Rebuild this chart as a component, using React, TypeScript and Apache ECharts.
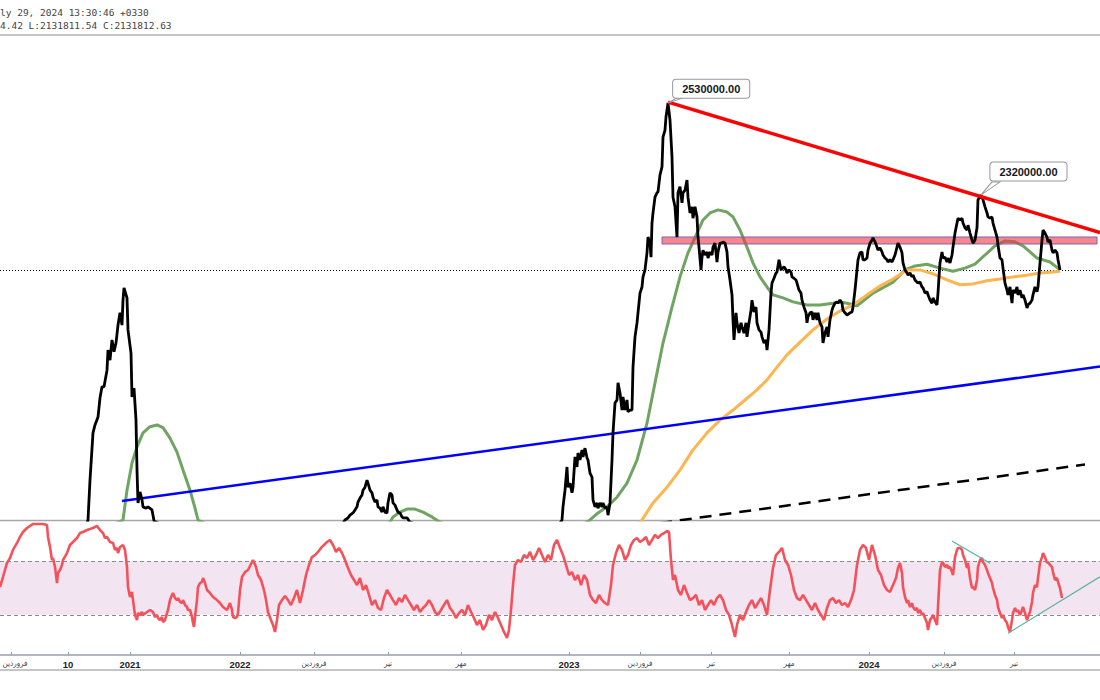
import React, { useEffect, useRef } from "react";
import * as echarts from "echarts";

// ---- header ----
const headerLines = ["ly 29, 2024 13:30:46 +0330", "4.42 L:2131811.54 C:2131812.63"];

// ---- time axis (bar index) ----
const xTicks = [11, 68, 130, 240, 314, 388, 461, 569, 640, 711, 789, 869, 944, 1014];
const xTickLabels = ["فروردین", "10", "2021", "2022", "فروردین", "تیر", "مهر", "2023", "فروردین", "تیر", "مهر", "2024", "فروردین", "تیر"];

// ---- price (thousand rials) [barIndex, close] ----
const price: [number, number][] = [
  [0, 1532], [60, 1521], [85, 1555],
  [88, 1578], [90, 1669], [93, 1777], [95, 1795], [98, 1813], [100, 1857], [102, 1882], [104, 1882], [107, 1920], [108, 1966], [110, 1943], [112, 1989], [114, 1962], [116, 1982], [118, 2023], [120, 2051], [122, 2023], [123, 2080], [124, 2108], [127, 2085], [128, 2012], [131, 1959], [132, 1859], [134, 1879], [136, 1806], [137, 1692], [138, 1617], [140, 1642], [142, 1624], [143, 1608], [146, 1605], [148, 1608], [152, 1601], [154, 1576],
  [200, 1521], [280, 1532], [340, 1560],
  [345, 1578], [348, 1583], [350, 1589], [353, 1594], [355, 1601], [357, 1608], [358, 1619], [360, 1628], [362, 1635], [363, 1646], [365, 1653], [367, 1669], [368, 1662], [370, 1646], [372, 1640], [373, 1630], [375, 1619], [377, 1624], [378, 1608], [380, 1605], [382, 1596], [383, 1608], [385, 1596], [387, 1594], [388, 1617], [390, 1640], [392, 1635], [393, 1617], [395, 1612], [397, 1601], [398, 1596], [400, 1594], [402, 1585], [403, 1583], [407, 1583], [410, 1573],
  [480, 1521], [540, 1532], [558, 1564],
  [562, 1578], [563, 1608], [565, 1646], [567, 1699], [568, 1653], [570, 1662], [572, 1640], [573, 1653], [575, 1722], [577, 1699], [578, 1731], [580, 1715], [582, 1738], [583, 1722], [585, 1742], [587, 1720], [588, 1715], [590, 1685], [592, 1676], [593, 1624], [595, 1608], [597, 1617], [598, 1605], [600, 1617], [602, 1608], [603, 1617], [605, 1605], [607, 1608], [608, 1589], [610, 1617], [612, 1715], [613, 1777], [615, 1845], [617, 1852], [618, 1891], [620, 1868], [622, 1829], [623, 1859], [625, 1829], [627, 1852], [628, 1825], [630, 1829], [632, 1829], [633, 1927], [635, 1996], [637, 2028], [638, 2051], [640, 2096], [642, 2110], [643, 2133], [645, 2149], [647, 2188], [648, 2224], [650, 2210], [651, 2178], [652, 2256], [653, 2279], [655, 2315], [657, 2325], [658, 2327], [660, 2366], [662, 2384], [663, 2452], [665, 2468], [666, 2498], [668, 2530], [670, 2491], [672, 2407], [673, 2315], [675, 2293], [677, 2224], [678, 2325], [680, 2339], [682, 2302], [683, 2325], [685, 2331], [687, 2354], [688, 2315], [690, 2279], [692, 2293], [693, 2267], [695, 2293], [697, 2270], [698, 2224], [699, 2201],
  [701, 2149], [702, 2178], [703, 2194], [705, 2183], [707, 2190], [708, 2176], [710, 2190], [712, 2183], [713, 2201], [715, 2210], [717, 2167], [718, 2190], [720, 2210], [722, 2210], [723, 2213], [725, 2210], [727, 2190], [728, 2156], [730, 2126], [732, 2092], [733, 2035], [734, 1989], [736, 2051], [737, 2028], [739, 2005], [741, 2028], [742, 2019], [744, 2005], [746, 2028], [747, 1996], [749, 2028], [751, 2057], [752, 2080], [754, 2053], [756, 2064], [757, 2028], [759, 2012], [761, 2007], [762, 1996], [764, 1982], [766, 1989], [767, 1966], [769, 2012], [771, 2096], [772, 2119], [774, 2130], [776, 2142], [777, 2144], [779, 2172], [781, 2149], [784, 2156], [786, 2149], [787, 2142], [789, 2149], [791, 2144], [792, 2133], [794, 2130], [796, 2126], [797, 2119], [799, 2103], [801, 2096], [802, 2080], [804, 2064], [806, 2051], [807, 2028], [808, 2042], [810, 2051], [812, 2053], [813, 2035], [815, 2051], [817, 2035], [818, 2051], [820, 2028], [822, 2019], [823, 1982], [825, 2005], [827, 2019], [828, 1996], [830, 2035], [832, 2057], [833, 2064], [835, 2073], [837, 2076], [838, 2073], [840, 2080], [842, 2073], [843, 2057], [845, 2051], [847, 2046], [850, 2051], [852, 2053], [853, 2064], [855, 2103], [857, 2149], [858, 2172], [860, 2188], [862, 2190], [863, 2172], [865, 2172], [867, 2176], [868, 2194], [870, 2210], [872, 2217], [873, 2222], [875, 2213], [877, 2201], [878, 2194], [880, 2199], [882, 2190], [883, 2183], [885, 2176], [887, 2172], [888, 2167], [890, 2172], [892, 2167], [893, 2172], [895, 2183], [897, 2201], [898, 2210], [900, 2201], [902, 2188], [903, 2165], [905, 2149], [907, 2142], [908, 2137], [910, 2142], [912, 2133], [913, 2137], [915, 2126], [917, 2121], [918, 2119], [920, 2121], [922, 2110], [923, 2108], [925, 2096], [927, 2099], [928, 2092], [930, 2080], [932, 2073], [933, 2085], [935, 2076], [937, 2069], [938, 2096], [939, 2133], [940, 2165], [942, 2190], [943, 2176], [945, 2178], [947, 2167], [948, 2176], [950, 2165], [952, 2183], [953, 2201], [955, 2233], [957, 2256], [958, 2267], [960, 2263], [962, 2267], [963, 2256], [965, 2245], [967, 2240], [968, 2251], [970, 2233], [972, 2217], [973, 2210], [975, 2217], [977, 2245], [978, 2309], [981, 2320], [983, 2309], [985, 2293], [987, 2279], [988, 2270], [990, 2267], [992, 2270], [993, 2256], [995, 2240], [997, 2224], [998, 2206], [1000, 2176], [1002, 2172], [1003, 2153], [1005, 2119], [1007, 2103], [1008, 2092], [1010, 2110], [1012, 2073], [1013, 2103], [1015, 2096], [1017, 2110], [1018, 2092], [1020, 2103], [1022, 2085], [1023, 2092], [1025, 2080], [1027, 2062], [1028, 2069], [1030, 2073], [1032, 2080], [1033, 2092], [1035, 2110], [1037, 2099], [1038, 2110], [1040, 2165], [1042, 2217], [1043, 2240], [1045, 2233], [1047, 2224], [1048, 2213], [1050, 2217], [1052, 2194], [1053, 2188], [1055, 2194], [1057, 2188], [1058, 2172], [1060, 2148.7],
];

// ---- moving averages ----
const maFast: [number, number][] = [
  [60, 1510], [123, 1578], [127, 1646], [132, 1708], [137, 1745], [143, 1777], [150, 1791], [157, 1795], [163, 1789], [170, 1765], [177, 1733], [183, 1692], [190, 1646], [195, 1605], [198, 1578],
  [250, 1521], [330, 1532], [380, 1560], [390, 1573], [393, 1585], [400, 1596], [407, 1603], [415, 1603], [423, 1596], [432, 1585], [440, 1573],
  [500, 1521], [560, 1532], [590, 1578], [598, 1594], [607, 1608], [617, 1630], [627, 1662], [637, 1715], [647, 1799], [655, 1891], [663, 1982], [672, 2064], [680, 2133], [688, 2188], [697, 2233], [703, 2263], [710, 2279], [718, 2286], [727, 2281], [733, 2270], [740, 2240], [747, 2201], [753, 2165], [760, 2133], [767, 2110], [773, 2092], [783, 2085], [793, 2076], [807, 2069], [820, 2069], [833, 2073], [840, 2076], [847, 2073], [857, 2067], [873, 2096], [893, 2121], [905, 2149], [915, 2158], [927, 2162], [940, 2153], [953, 2146], [965, 2153], [975, 2162], [985, 2183], [995, 2204], [1005, 2215], [1015, 2213], [1023, 2204], [1030, 2190], [1037, 2176], [1043, 2172], [1050, 2167], [1055, 2158], [1060, 2149],
];
const maSlow: [number, number][] = [
  [620, 1521], [642, 1578], [653, 1617], [667, 1653], [680, 1692], [693, 1738], [707, 1777], [720, 1806], [733, 1829], [745, 1852], [757, 1875], [767, 1898], [777, 1927], [787, 1955], [800, 1984], [813, 2012], [827, 2037], [840, 2055], [853, 2069], [867, 2092], [880, 2112], [893, 2128], [907, 2149], [920, 2149], [933, 2140], [947, 2126], [960, 2115], [973, 2117], [987, 2124], [1000, 2128], [1013, 2133], [1027, 2137], [1040, 2142], [1053, 2144], [1060, 2146],
];

// ---- drawings ----
const redTrend: [number, number][] = [[668, 2532], [1100, 2234]];
const blueTrend: [number, number][] = [[122, 1621.4], [1100, 1928.2]];
const dashedTrend: [number, number][] = [[660, 1571.1], [1085, 1704.7]];
const zoneX = [662, 1097];
const zoneV = [2224.1, 2208.1];
const calloutX = [668, 981];
const calloutV = [2530, 2320];
const calloutText = ["2530000.00", "2320000.00"];

// ---- RSI [barIndex, rsi] ----
const rsi: [number, number][] = [
  [0, 50.7], [3, 58.2], [7, 68.7], [10, 72.4], [13, 78.4], [17, 83.6], [20, 88.1], [23, 91.8], [27, 94.8], [30, 96.3], [33, 97.8], [38, 97.8], [43, 97.8], [47, 97.0], [48, 88.1], [50, 80.6], [52, 70.9], [53, 72.4], [55, 65.7], [57, 53.7], [58, 61.2], [60, 63.4], [62, 67.2], [63, 70.9], [67, 76.1], [70, 82.1], [73, 84.3], [77, 87.3], [80, 91.0], [83, 91.8], [87, 93.3], [90, 94.0], [93, 94.8], [97, 96.3], [100, 93.3], [103, 91.0], [105, 87.3], [107, 88.1], [110, 84.3], [113, 83.6], [115, 78.4], [117, 79.9], [118, 76.1], [120, 80.6], [123, 82.1], [125, 78.4], [127, 65.7], [128, 50.7], [130, 43.3], [132, 47.0], [133, 41.0], [135, 29.9], [137, 26.1], [138, 31.3], [140, 29.9], [142, 32.1], [143, 29.9], [147, 32.1], [150, 33.6], [153, 32.1], [155, 28.4], [157, 29.9], [158, 27.6], [160, 26.1], [162, 28.4], [163, 24.6], [165, 26.1], [167, 31.3], [168, 33.6], [170, 41.0], [172, 44.8], [173, 46.3], [175, 42.5], [177, 41.0], [178, 42.5], [180, 39.6], [182, 38.8], [183, 41.0], [185, 37.3], [187, 35.8], [188, 33.6], [190, 33.6], [192, 28.4], [193, 23.9], [194, 20.9], [195, 28.4], [197, 41.0], [198, 50.7], [200, 53.7], [202, 54.5], [203, 57.5], [205, 53.7], [207, 48.5], [210, 46.3], [213, 43.3], [217, 41.0], [220, 38.8], [223, 35.8], [227, 33.6], [230, 38.8], [232, 33.6], [233, 28.4], [235, 27.6], [237, 28.4], [238, 31.3], [240, 48.5], [242, 58.2], [245, 61.9], [248, 63.4],
  [250, 66.4], [253, 70.9], [256, 65.7], [258, 59.7], [261, 56.0], [264, 48.5], [266, 41.0], [268, 32.1], [271, 26.1], [273, 22.4], [275, 17.2], [277, 26.1], [279, 37.3], [282, 41.0], [285, 44.0], [288, 41.0], [291, 37.3], [294, 42.5], [297, 48.5], [300, 38.8], [303, 48.5], [306, 59.7], [309, 67.2], [312, 73.1], [315, 74.6], [318, 76.9], [321, 79.9], [324, 82.1], [327, 84.3], [330, 85.8], [333, 82.1], [336, 76.9], [339, 79.9], [342, 76.1], [345, 70.9], [348, 64.9], [351, 59.7], [354, 56.0], [357, 52.2], [360, 57.5], [363, 48.5], [366, 52.2], [369, 44.8], [372, 37.3], [375, 41.0], [378, 35.1], [381, 33.6], [384, 42.5], [387, 48.5], [390, 44.8], [393, 41.0], [396, 37.3], [399, 42.5], [402, 39.6], [405, 44.8], [408, 41.0], [411, 37.3], [414, 33.6], [417, 37.3], [420, 32.1], [423, 35.1], [426, 37.3], [429, 41.0], [432, 37.3], [435, 32.1], [438, 29.9], [441, 33.6], [444, 37.3], [447, 41.0], [450, 35.1], [453, 32.1], [456, 27.6], [459, 31.3], [462, 33.6], [465, 29.9], [468, 37.3], [471, 32.1], [474, 27.6], [477, 22.4], [480, 26.1], [483, 18.7], [486, 22.4], [489, 29.9], [492, 26.1], [495, 32.1], [498, 27.6], [501, 22.4], [504, 17.2], [507, 12.7], [509, 18.7], [511, 33.6], [513, 52.2], [515, 67.2], [518, 70.9], [521, 69.4], [524, 74.6], [527, 72.4], [530, 76.9], [533, 70.9], [536, 74.6], [539, 79.9], [542, 74.6], [545, 69.4], [548, 74.6], [551, 70.9], [554, 82.1], [557, 85.8], [560, 79.9], [563, 74.6], [566, 67.2], [569, 59.7], [572, 61.9], [575, 56.0], [578, 59.7], [581, 52.2], [584, 59.7], [587, 56.0], [590, 44.8], [593, 41.0], [596, 38.8], [599, 44.8], [602, 41.0], [605, 38.8], [608, 37.3], [611, 52.2], [613, 67.2], [616, 76.1], [619, 82.1], [622, 78.4], [625, 70.9], [628, 74.6], [631, 82.1], [634, 85.8], [637, 87.3], [640, 84.3], [643, 85.8], [646, 88.1], [649, 82.1], [652, 85.8], [655, 89.6], [658, 87.3], [661, 89.6], [664, 91.0], [667, 92.5], [669, 91.8], [671, 70.9], [673, 56.0], [675, 59.7], [678, 48.5], [681, 44.8], [684, 52.2], [687, 46.3], [690, 41.0], [693, 42.5], [696, 44.8], [699, 37.3], [702, 41.0], [705, 33.6], [708, 37.3], [711, 41.0], [714, 37.3], [717, 42.5], [720, 44.8], [723, 41.0], [726, 33.6], [729, 29.9], [732, 22.4], [735, 13.4], [737, 22.4], [740, 29.9], [743, 26.1], [746, 32.1], [749, 37.3], [752, 41.0], [755, 35.1], [758, 38.8], [761, 42.5], [764, 37.3], [767, 29.9], [770, 48.5], [773, 64.9], [776, 74.6], [779, 76.9], [782, 79.9], [785, 70.9], [788, 67.2], [791, 59.7], [794, 48.5], [797, 42.5], [800, 41.0], [803, 44.8], [806, 41.0], [809, 37.3], [812, 33.6], [815, 38.8], [818, 33.6], [821, 29.9], [824, 26.1], [827, 35.1], [830, 41.0], [833, 42.5], [836, 38.8], [839, 41.0], [842, 37.3], [845, 38.8], [848, 35.8], [851, 41.0], [854, 48.5], [857, 67.2], [860, 78.4], [863, 82.1], [866, 79.9], [869, 70.9], [872, 82.1], [875, 74.6], [878, 63.4], [881, 59.7], [884, 52.2], [887, 48.5], [890, 47.0], [893, 52.2], [896, 57.5], [898, 64.9],
  [900, 68.7], [902, 61.2], [903, 50.7], [905, 43.3], [907, 38.8], [908, 41.0], [910, 35.8], [912, 38.8], [913, 35.8], [915, 33.6], [917, 35.1], [918, 31.3], [920, 33.6], [922, 29.9], [923, 31.3], [925, 27.6], [927, 23.9], [928, 18.7], [930, 26.1], [932, 28.4], [933, 29.9], [935, 26.1], [937, 22.4], [938, 35.8], [940, 63.4], [942, 69.4], [943, 68.7], [945, 65.7], [947, 67.2], [948, 64.9], [950, 65.7], [952, 61.9], [953, 59.7], [955, 73.1], [957, 78.4], [958, 79.9], [960, 79.9], [962, 78.4], [963, 74.6], [965, 70.9], [967, 64.9], [968, 68.7], [970, 57.5], [972, 50.0], [973, 50.7], [975, 48.5], [977, 56.0], [978, 65.7], [980, 70.9], [982, 72.4], [983, 69.4], [985, 67.2], [987, 63.4], [988, 61.2], [990, 57.5], [992, 53.7], [993, 50.0], [995, 44.8], [997, 41.0], [998, 35.8], [1000, 31.3], [1002, 27.6], [1003, 29.9], [1005, 26.1], [1007, 23.9], [1008, 20.9], [1010, 17.2], [1012, 26.1], [1013, 31.3], [1015, 35.1], [1017, 32.1], [1018, 33.6], [1020, 29.9], [1022, 33.6], [1023, 35.8], [1025, 31.3], [1027, 26.1], [1028, 28.4], [1030, 32.1], [1032, 39.6], [1033, 46.3], [1035, 52.2], [1037, 50.7], [1038, 57.5], [1040, 68.7], [1042, 73.1], [1043, 76.1], [1045, 73.1], [1047, 68.7], [1048, 69.4], [1050, 67.2], [1052, 65.7], [1053, 61.9], [1055, 56.0], [1057, 57.5], [1058, 54.5], [1060, 50.0], [1062, 42.5],
];
const rsiBand = [30, 70];
const rsiTrendA: [number, number][] = [[952, 85.1], [990, 68.4]];
const rsiTrendB: [number, number][] = [[1008, 16.2], [1100, 58.4]];

// scale bounds (thousand rials)
const priceMin = 1577.99;
const priceMax = 2685.24;

export default function App() {
  const ref = useRef<HTMLDivElement>(null);
  useEffect(() => {
    if (!ref.current) return;
    const chart = echarts.init(ref.current, undefined, { renderer: "svg" });
    const lastClose = price[price.length - 1][1];
    const isNum = (t: string) => /^\d+$/.test(t);
    const pointerSizes = [[15, 5], [19, 13]];
    const labelPos = [[6, -18], [10, -19]];

    const option: any = {
      animation: false,
      backgroundColor: "#ffffff",
      grid: [
        { left: 0, right: 0, top: 35, height: 485, containLabel: false, outerBoundsMode: "none" },
        { left: 0, right: 0, top: 521, height: 134, containLabel: false, outerBoundsMode: "none" },
      ],
      xAxis: [
        { type: "value", gridIndex: 0, min: 0, max: 1100, show: false },
        {
          type: "value",
          gridIndex: 1,
          min: 0,
          max: 1100,
          axisLine: { show: true, lineStyle: { color: "#b2b5be", width: 2 } },
          axisTick: { show: true, inside: true, length: 3, customValues: xTicks, lineStyle: { color: "#9a9a9a" } },
          splitLine: { show: false },
          axisLabel: {
            show: true,
            customValues: xTicks,
            margin: 4,
            hideOverlap: false,
            formatter: (v: number) => {
              const idx = xTicks.indexOf(v);
              const t = xTickLabels[idx] ?? "";
              if (isNum(t)) return `{y|${t}}`;
              return idx === 0 ? `{f|${t}}` : `{n|${t}}`;
            },
            rich: {
              y: { fontSize: 9.5, fontWeight: "bold", color: "#222", fontFamily: "Liberation Sans, Arial, sans-serif" },
              n: { fontSize: 8, color: "#444", fontFamily: "DejaVu Sans Condensed, DejaVu Sans, sans-serif" },
              f: { fontSize: 8, color: "#444", fontFamily: "DejaVu Sans Condensed, DejaVu Sans, sans-serif", padding: [0, 0, 0, 8] },
            },
          },
        },
      ],
      yAxis: [
        { type: "value", gridIndex: 0, min: priceMin, max: priceMax, show: false },
        { type: "value", gridIndex: 1, min: 0, max: 100, show: false },
      ],
      graphic: [
        { type: "text", x: 0, y: 12, style: { text: headerLines[0], font: '9.5px "DejaVu Sans Mono", monospace', fill: "#444", verticalAlign: "middle" } },
        { type: "text", x: 0, y: 25, style: { text: headerLines[1], font: '9.5px "DejaVu Sans Mono", monospace', fill: "#444", verticalAlign: "middle" } },
        { type: "line", shape: { x1: 0, y1: 35, x2: 1100, y2: 35 }, style: { stroke: "#b0b0b0", lineWidth: 1.5 } },
        { type: "line", shape: { x1: 0, y1: 520.5, x2: 1100, y2: 520.5 }, style: { stroke: "#a6a6a6", lineWidth: 1.5 } },
        { type: "line", shape: { x1: 0, y1: 670, x2: 1100, y2: 670 }, style: { stroke: "#8c8c8c", lineWidth: 1 } },
      ],
      series: [
        {
          name: "maFast", type: "line", xAxisIndex: 0, yAxisIndex: 0, data: maFast, showSymbol: false, z: 2,
          lineStyle: { color: "#6fa461", width: 3 },
        },
        {
          name: "maSlow", type: "line", xAxisIndex: 0, yAxisIndex: 0, data: maSlow, showSymbol: false, z: 2,
          lineStyle: { color: "#fdb54f", width: 3 },
        },
        {
          name: "blue", type: "line", xAxisIndex: 0, yAxisIndex: 0, data: blueTrend, showSymbol: false, z: 3,
          lineStyle: { color: "#0000ff", width: 2.5 },
          markArea: {
            silent: true, z: 3,
            itemStyle: { color: "rgba(242,54,69,0.6)", borderColor: "#7e63b0", borderWidth: 1 },
            data: [[{ xAxis: zoneX[0], yAxis: zoneV[0] }, { xAxis: zoneX[1], yAxis: zoneV[1] }]],
          },
        },
        {
          name: "dashed", type: "line", xAxisIndex: 0, yAxisIndex: 0, data: dashedTrend, showSymbol: false, z: 3,
          lineStyle: { color: "#000", width: 2.5, type: [12, 8] },
        },
        {
          name: "price", type: "line", xAxisIndex: 0, yAxisIndex: 0, data: price, showSymbol: false, z: 4,
          lineStyle: { color: "#000", width: 2.8 },
          markLine: {
            silent: true, symbol: "none", z: 1,
            label: { show: false },
            lineStyle: { color: "#000", width: 1, type: [1, 2] },
            data: [{ yAxis: lastClose }],
          },
          markPoint: {
            z: 10,
            silent: true,
            data: calloutX.map((x, i) => ({
              coord: [x, calloutV[i]],
              symbol: "path://M0,10L8,0L14,0Z",
              symbolSize: pointerSizes[i],
              symbolOffset: [pointerSizes[i][0] / 2, -pointerSizes[i][1] / 2],
              itemStyle: { color: "#fff", borderColor: "#9598a1", borderWidth: 1 },
              label: {
                show: true,
                position: labelPos[i],
                formatter: calloutText[i],
                fontSize: 11,
                fontWeight: "bold",
                color: "#131722",
                fontFamily: "Liberation Sans, Arial, sans-serif",
                backgroundColor: "#fff",
                borderColor: "#9598a1",
                borderWidth: 1,
                borderRadius: 3,
                padding: [4, 9, 3, 9],
              },
            })),
          },
        },
        {
          name: "red", type: "line", xAxisIndex: 0, yAxisIndex: 0, data: redTrend, showSymbol: false, z: 5,
          lineStyle: { color: "#ff0000", width: 3.5 },
        },
        {
          name: "rsi", type: "line", xAxisIndex: 1, yAxisIndex: 1, data: rsi, showSymbol: false, z: 2,
          lineStyle: { color: "#f4525b", width: 2.6 },
          markArea: {
            silent: true, z: 1,
            itemStyle: { color: "#f2e5f1" },
            data: [[{ yAxis: rsiBand[0] }, { yAxis: rsiBand[1] }]],
          },
          markLine: {
            silent: true, symbol: "none", z: 1,
            label: { show: false },
            lineStyle: { color: "#8a8a8a", width: 1, type: [4, 3] },
            data: rsiBand.map((v) => ({ yAxis: v })),
          },
        },
        {
          name: "rsiTrendA", type: "line", xAxisIndex: 1, yAxisIndex: 1, data: rsiTrendA, showSymbol: false, z: 3,
          lineStyle: { color: "#56b3a3", width: 1.2 },
        },
        {
          name: "rsiTrendB", type: "line", xAxisIndex: 1, yAxisIndex: 1, data: rsiTrendB, showSymbol: false, z: 3,
          lineStyle: { color: "#56b3a3", width: 1.2 },
        },
      ],
    };
    chart.setOption(option);
    return () => chart.dispose();
  }, []);
  return (
    <div
      ref={ref}
      style={{ position: "absolute", left: 0, top: 0, width: 1100, height: 700, background: "#fff" }}
    />
  );
}
